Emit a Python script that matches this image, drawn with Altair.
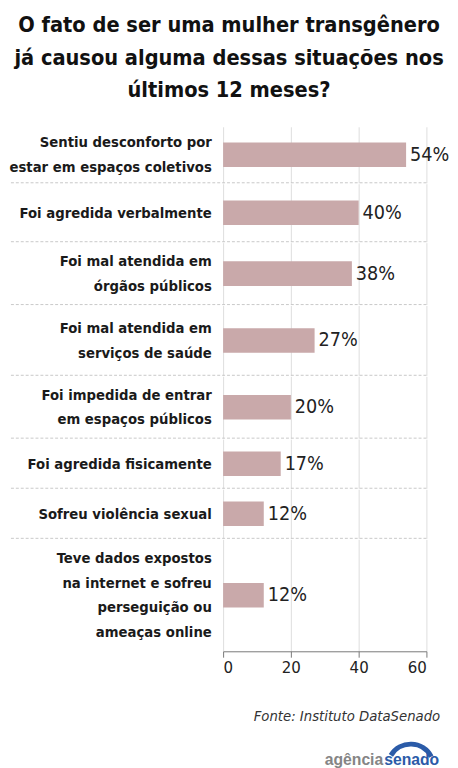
import altair as alt
import pandas as pd

# ---- data ----
categorias = [
    "Sentiu desconforto por|estar em espaços coletivos",
    "Foi agredida verbalmente",
    "Foi mal atendida em|órgãos públicos",
    "Foi mal atendida em|serviços de saúde",
    "Foi impedida de entrar|em espaços públicos",
    "Foi agredida fisicamente",
    "Sofreu violência sexual",
    "Teve dados expostos|na internet e sofreu|perseguição ou|ameaças online",
]
valores = [54, 40, 38, 27, 20, 17, 12, 12]
ticks_x = [0, 20, 40, 60]

titulo = [
    "O fato de ser uma mulher transgênero",
    "já causou alguma dessas situações nos",
    "últimos 12 meses?",
]
fonte = "Fonte: Instituto DataSenado"

# ---- layout ----
FONT = "'DejaVu Sans Condensed', 'Liberation Sans Narrow', Roboto, sans-serif"
BAR = "#c9a9aa"
alturas = [57, 59, 63, 71, 63, 50, 50, 114]
W = 207
LEFT = 216
LH = 25

rows = []
n = len(categorias)
for i, (c, v, h) in enumerate(zip(categorias, valores, alturas)):
    df = pd.DataFrame({"cat": [c], "valor": [v], "rot": [f"{v}%"]})
    last = i == n - 1
    nlines = c.count("|") + 1
    xaxis = alt.Axis(
        values=ticks_x, grid=True, gridColor="#dddddd", gridWidth=1,
        labels=last, ticks=last, domain=last, title=None,
        labelFont=FONT, labelFontSize=17, labelColor="#222222",
        tickColor="#777777", domainColor="#777777", tickSize=6, labelPadding=3,
    )
    yaxis = alt.Axis(
        labelExpr="split(datum.label, '|')", title=None, ticks=False, domain=False,
        labelFont=FONT, labelFontSize=15, labelFontWeight="bold", labelColor="#1a1a1a",
        labelLineHeight=LH, labelPadding=12, labelLimit=400,
        labelOffset=-(nlines - 1) * LH / 2,
        minExtent=LEFT, maxExtent=LEFT,
    )
    base = alt.Chart(df).encode(
        x=alt.X("valor:Q", scale=alt.Scale(domain=[0, 60], nice=False), axis=xaxis),
        y=alt.Y("cat:N", axis=yaxis, sort=None),
    )
    bar = base.mark_bar(color=BAR, size=25)
    txt = base.mark_text(align="left", dx=4, font=FONT, fontSize=20, color="#222222").encode(
        text="rot:N"
    )
    layers = [bar, txt]
    if not last:
        sep = alt.Chart(df).mark_rule(color="#c8c8c8", strokeDash=[3, 2], strokeWidth=1).encode(
            x=alt.value(-LEFT), x2=alt.value(W), y=alt.value(h)
        )
        layers.append(sep)
    else:
        src = alt.Chart(df).mark_text(
            align="right", baseline="alphabetic", font=FONT, fontSize=15,
            fontStyle="italic", color="#333333",
        ).encode(x=alt.value(221), y=alt.value(185), text=alt.value(fonte))
        ag = alt.Chart(df).mark_text(
            align="right", baseline="alphabetic", font="Liberation Sans", fontSize=16,
            fontWeight="bold", color="#858585",
        ).encode(x=alt.value(163), y=alt.value(230), text=alt.value("agência"))
        sen = alt.Chart(df).mark_text(
            align="left", baseline="alphabetic", font="Liberation Sans", fontSize=16,
            fontWeight="bold", color="#2b5ba8",
        ).encode(x=alt.value(164), y=alt.value(230), text=alt.value("senado"))
        arc = alt.Chart(df).mark_arc(
            theta=5.25, theta2=7.38, radius=26, radius2=21, color="#2b5ba8"
        ).encode(x=alt.value(191), y=alt.value(232))
        layers += [src, ag, sen, arc]
    rows.append(alt.layer(*layers).properties(width=W, height=h))

chart = alt.vconcat(
    *rows,
    spacing=0,
    title=alt.TitleParams(
        text=titulo, font=FONT, fontSize=22, fontWeight="bold", color="#111111",
        lineHeight=33, anchor="middle", offset=25,
    ),
).properties(padding=0).configure_view(stroke=None).configure_concat(spacing=0)

chart.save("out.html", embed_options={"renderer": "svg", "actions": False})
